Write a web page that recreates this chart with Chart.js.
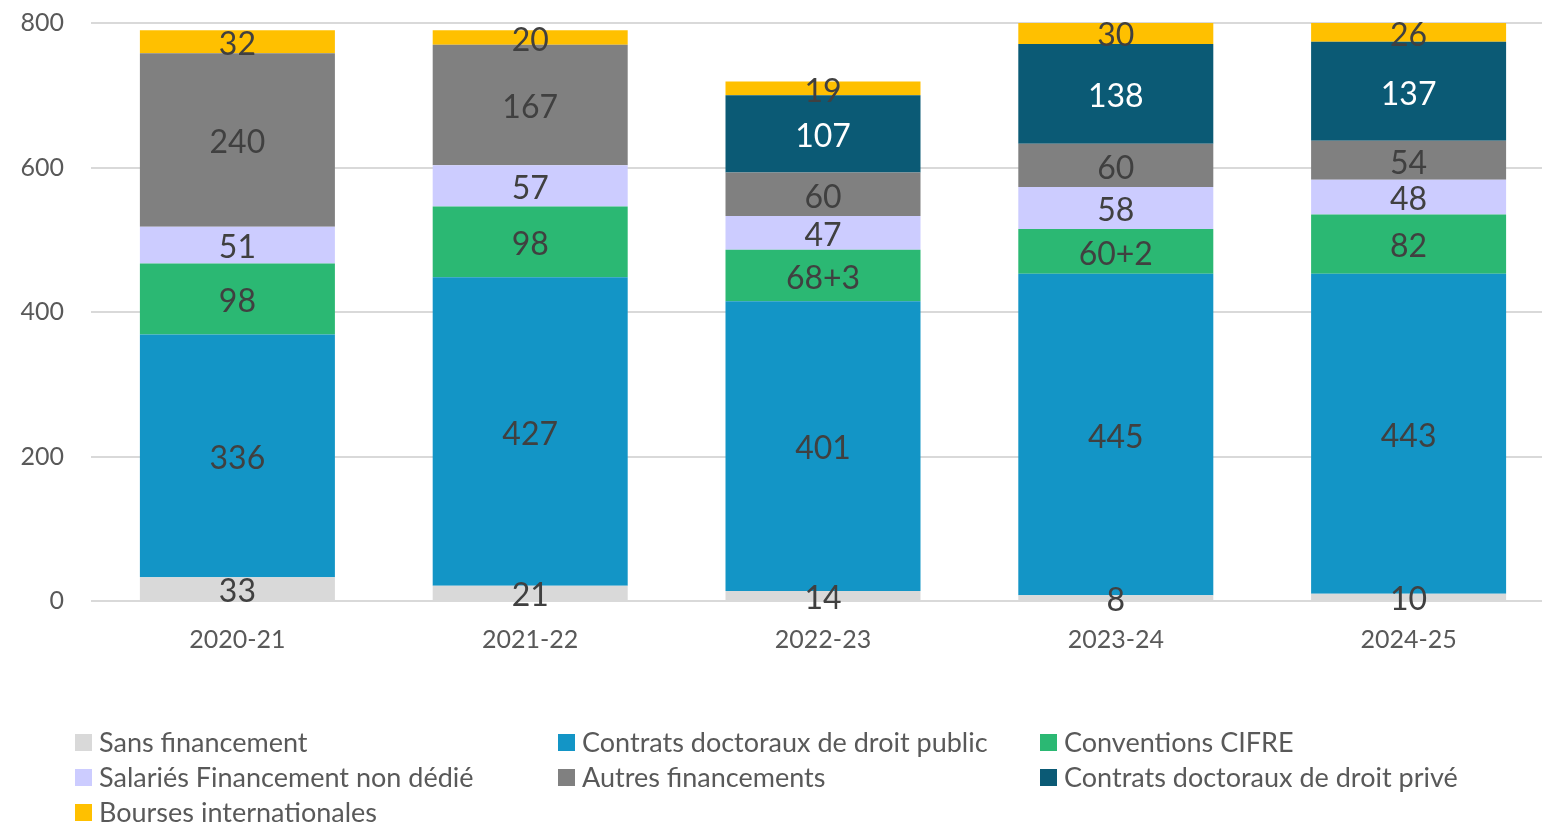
<!DOCTYPE html>
<html>
<head>
<meta charset="utf-8">
<script src="https://cdn.jsdelivr.net/npm/chart.js@4/dist/chart.umd.min.js"></script>
<style>
html,body{margin:0;padding:0;background:#fff;overflow:hidden;width:1542px;height:824px;}
#wrap{position:relative;width:1542px;height:824px;overflow:hidden;}
canvas{display:block;}
</style>
</head>
<body>
<div id="wrap"><canvas id="c" width="1555" height="824"></canvas></div>
<script>
const categories = ["2020-21", "2021-22", "2022-23", "2023-24", "2024-25"];
const yTicks = [0, 200, 400, 600, 800];

const sansFinancement = [33, 21, 14, 8, 10];
const contratsPublic = [336, 427, 401, 445, 443];
const conventionsCifre = [98, 98, 71, 62, 82];
const conventionsCifreLabels = ["98", "98", "68+3", "60+2", "82"];
const salaries = [51, 57, 47, 58, 48];
const autresFinancements = [240, 167, 60, 60, 54];
const contratsPrive = [0, 0, 107, 138, 137];
const boursesInternationales = [32, 20, 19, 30, 26];

const FONT = "Lato, 'Open Sans', sans-serif";

const datasets = [
  { label: "Sans financement", data: sansFinancement, backgroundColor: "#D9D9D9", labelColor: "#404040" },
  { label: "Contrats doctoraux de droit public", data: contratsPublic, backgroundColor: "#1395C6", labelColor: "#404040" },
  { label: "Conventions CIFRE", data: conventionsCifre, backgroundColor: "#2BB873", labelColor: "#404040", textLabels: conventionsCifreLabels },
  { label: "Salariés Financement non dédié", data: salaries, backgroundColor: "#CCCCFF", labelColor: "#404040" },
  { label: "Autres financements", data: autresFinancements, backgroundColor: "#808080", labelColor: "#404040" },
  { label: "Contrats doctoraux de droit privé", data: contratsPrive, backgroundColor: "#0B5A75", labelColor: "#FFFFFF" },
  { label: "Bourses internationales", data: boursesInternationales, backgroundColor: "#FFC000", labelColor: "#404040" }
].map(d => Object.assign({ barPercentage: 0.666, categoryPercentage: 1.0, borderWidth: 0 }, d));

const segmentLabels = {
  id: "segmentLabels",
  afterDatasetsDraw(chart) {
    const ctx = chart.ctx;
    ctx.save();
    ctx.font = "32px " + FONT;
    ctx.textAlign = "center";
    ctx.textBaseline = "middle";
    chart.data.datasets.forEach((ds, i) => {
      const meta = chart.getDatasetMeta(i);
      meta.data.forEach((bar, j) => {
        const v = ds.data[j];
        if (!v) return;
        const txt = ds.textLabels ? ds.textLabels[j] : String(v);
        const y = (bar.y + bar.base) / 2;
        ctx.fillStyle = ds.labelColor;
        ctx.fillText(txt, bar.x, y + 3);
      });
    });
    ctx.restore();
  }
};

const gridLegend = {
  id: "gridLegend",
  afterDraw(chart) {
    const ctx = chart.ctx;
    ctx.save();
    ctx.font = "27px " + FONT;
    ctx.textBaseline = "middle";
    ctx.textAlign = "left";
    const colX = [75, 558, 1040];
    const rowY = [742, 777, 812];
    chart.data.datasets.forEach((ds, i) => {
      const col = i % 3, row = Math.floor(i / 3);
      const x = colX[col], y = rowY[row];
      ctx.fillStyle = ds.backgroundColor;
      ctx.fillRect(x, y - 8, 17, 17);
      ctx.fillStyle = "#595959";
      ctx.fillText(ds.label, x + 24, y + 1);
    });
    ctx.restore();
  }
};

new Chart(document.getElementById("c"), {
  type: "bar",
  data: { labels: categories, datasets: datasets },
  options: {
    responsive: false,
    animation: false,
    layout: { padding: { top: 23, right: 0, left: 0, bottom: 0 } },
    plugins: { legend: { display: false }, tooltip: { enabled: false } },
    scales: {
      x: {
        stacked: true,
        grid: { display: false, drawTicks: false },
        border: { display: false },
        ticks: { color: "#595959", font: { family: FONT, size: 25 }, padding: 24 },
        afterFit(scale) { scale.height = 824 - 601; }
      },
      y: {
        stacked: true,
        min: 0, max: 800,
        afterBuildTicks(scale) { scale.ticks = yTicks.map(v => ({ value: v })); },
        grid: { color: "#D9D9D9", lineWidth: 2, drawTicks: true, tickLength: 27, tickColor: "rgba(0,0,0,0)" },
        border: { display: false },
        ticks: { color: "#595959", font: { family: FONT, size: 25 }, padding: 0 },
        afterFit(scale) { scale.width = 91; }
      }
    }
  },
  plugins: [segmentLabels, gridLegend]
});
</script>
</body>
</html>
